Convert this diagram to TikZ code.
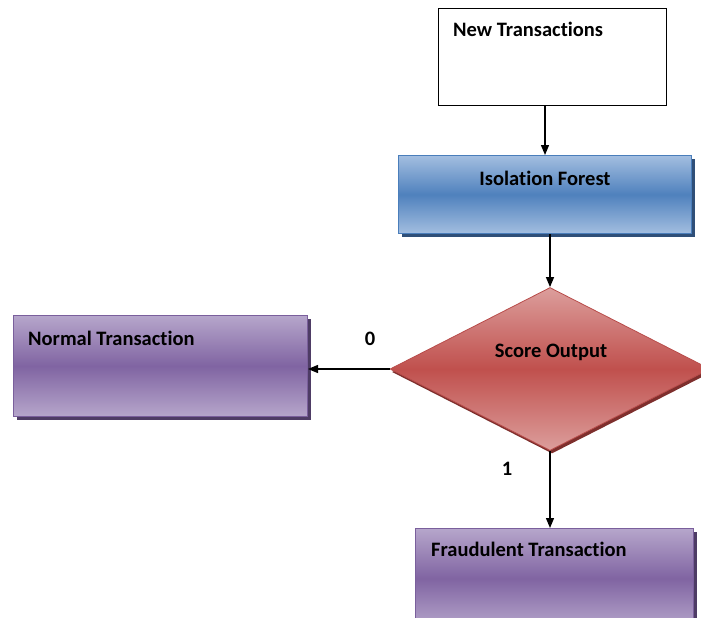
\documentclass[tikz,border=0pt]{standalone}
\usepackage{fontspec}
\setmainfont{Carlito}[Ligatures=NoCommon]
\usetikzlibrary{arrows.meta,shapes.geometric,shadows}
\definecolor{blueL}{HTML}{A3BEE0}
\definecolor{blueD}{HTML}{4F81BD}
\definecolor{blueB}{HTML}{4A7EBB}
\definecolor{blueS}{HTML}{2F4F78}
\definecolor{purL}{HTML}{B6A6CB}
\definecolor{purD}{HTML}{8064A2}
\definecolor{purB}{HTML}{7A5F9C}
\definecolor{purS}{HTML}{4E3C65}
\definecolor{redL}{HTML}{DC9E9C}
\definecolor{redD}{HTML}{C0504D}
\definecolor{redB}{HTML}{B84C4A}
\definecolor{redS}{HTML}{7E2F2D}
\tikzset{
  txt/.style={font=\fontsize{20.5}{24}\bfseries\selectfont, inner sep=0pt, text=black},
  plainbox/.style={draw=black, line width=1.2pt, fill=white, inner sep=0pt, anchor=north west},
  bluebox/.style={draw=blueB, line width=1pt, inner sep=0pt, anchor=north west,
    top color=blueL, bottom color=blueL, middle color=blueD,
    drop shadow={fill=blueS, opacity=1, shadow xshift=3pt, shadow yshift=-3pt}},
  purbox/.style={draw=purB, line width=1pt, inner sep=0pt, anchor=north west,
    top color=purL, bottom color=purL, middle color=purD,
    drop shadow={fill=purS, opacity=1, shadow xshift=3pt, shadow yshift=-3pt}},
  reddia/.style={diamond, draw=redB, line width=0.8pt, inner sep=0pt,
    top color=redL, bottom color=redL, middle color=redD,
    drop shadow={fill=redS, opacity=1, shadow xshift=2pt, shadow yshift=-3pt}},
  arr/.style={draw=black, line width=1.3pt, -{Triangle[length=10pt,width=8pt]}}
}
\begin{document}
\begin{tikzpicture}[x=1pt,y=-1pt]
\useasboundingbox (0,0) rectangle (701,618);
% boxes
\node[plainbox, minimum width=228pt, minimum height=97pt] (new) at (438,8) {};
\node[bluebox, minimum width=293pt, minimum height=78pt] (iso) at (398,155) {};
\node[reddia, minimum width=320pt, minimum height=163pt] (dia) at (550,369) {};
\node[purbox, minimum width=294pt, minimum height=101pt] (normal) at (13,315) {};
\node[purbox, minimum width=278pt, minimum height=100pt] (fraud) at (415,528) {};
% texts
\node[txt, anchor=base west] (newt) at (453,37) {New Transactions};
\node[txt, anchor=base] (isot) at (545,185) {Isolation Forest};
\node[txt, anchor=base] (diat) at (551,357) {Score Output};
\node[txt, anchor=base west] (normt) at (28,345) {Normal Transaction};
\node[txt, anchor=base west] (fraudt) at (431,556) {Fraudulent Transaction};
\node[txt, anchor=base] (zero) at (370,345) {0};
\node[txt, anchor=base] (one) at (507,475) {1};
% connectors
\draw[arr] (iso.north |- new.south) -- (iso.north);
\draw[arr] (dia.north |- iso.south) -- (dia.north);
\draw[arr] (dia.west) -- (dia.west -| normal.east);
\draw[arr] (dia.south) -- (dia.south |- fraud.north);
\end{tikzpicture}
\end{document}
